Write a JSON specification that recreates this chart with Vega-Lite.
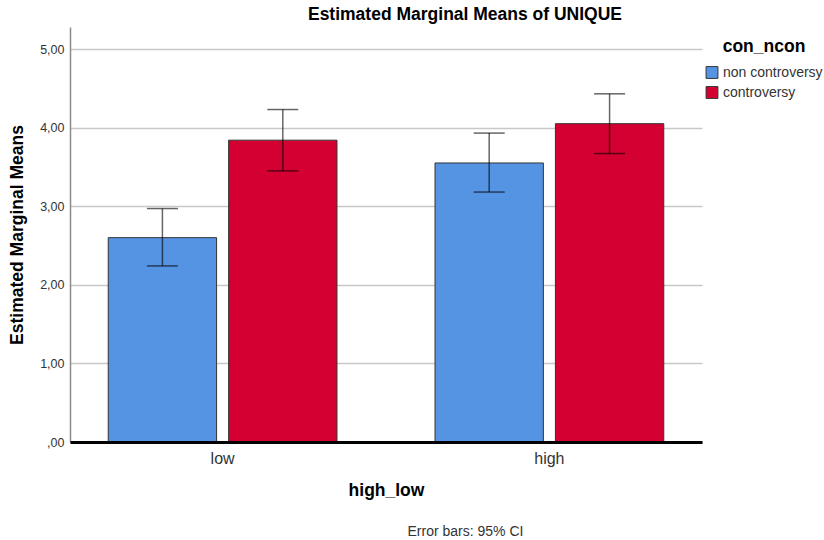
{
  "$schema": "https://vega.github.io/schema/vega-lite/v6.json",
  "autosize": "none",
  "width": 632,
  "height": 415,
  "padding": {"left": 70, "top": 27, "right": 122, "bottom": 98},
  "background": "white",
  "title": {
    "text": "Estimated Marginal Means of UNIQUE",
    "font": "Liberation Sans",
    "fontSize": 17.5,
    "fontWeight": "bold",
    "color": "#000000",
    "anchor": "middle",
    "dx": 79,
    "offset": 4
  },
  "config": {
    "view": {"stroke": null},
    "font": "Liberation Sans"
  },
  "data": {
    "values": [
      {"high_low": "low", "con_ncon": "non controversy", "mean": 2.60, "lo": 2.24, "hi": 2.97},
      {"high_low": "low", "con_ncon": "controversy", "mean": 3.84, "lo": 3.45, "hi": 4.23},
      {"high_low": "high", "con_ncon": "non controversy", "mean": 3.55, "lo": 3.18, "hi": 3.93},
      {"high_low": "high", "con_ncon": "controversy", "mean": 4.05, "lo": 3.67, "hi": 4.43}
    ]
  },
  "resolve": {"axis": {"x": "independent"}},
  "layer": [
    {
      "mark": {"type": "bar", "stroke": "#333333", "strokeWidth": 1},
      "encoding": {
        "x": {
          "field": "high_low", "type": "nominal", "sort": ["low", "high"],
          "scale": {"paddingInner": 0.3, "paddingOuter": 0.117},
          "axis": {
            "orient": "bottom",
            "title": "high_low", "labelAngle": 0, "ticks": false, "grid": false,
            "labelFont": "Liberation Sans", "labelFontSize": 16, "labelColor": "#333333", "labelPadding": 8,
            "titleFont": "Liberation Sans", "titleFontSize": 17.5, "titleFontWeight": "bold", "titleColor": "#000000", "titlePadding": 15,
            "domainColor": "#000000", "domainWidth": 3, "zindex": 1
          }
        },
        "xOffset": {
          "field": "con_ncon", "type": "nominal", "sort": ["non controversy", "controversy"],
          "scale": {"paddingInner": 0.1, "paddingOuter": 0}
        },
        "y": {
          "field": "mean", "type": "quantitative",
          "scale": {"domain": [0, 5.28], "nice": false, "zero": true},
          "axis": {
            "title": "Estimated Marginal Means", "values": [0, 1, 2, 3, 4, 5],
            "labelExpr": "datum.value == 0 ? ',00' : replace(format(datum.value, '.2f'), '.', ',')",
            "ticks": false, "labelPadding": 6,
            "labelFont": "Liberation Sans", "labelFontSize": 12.5, "labelColor": "#333333",
            "titleFont": "Liberation Sans", "titleFontSize": 17.5, "titleFontWeight": "bold", "titleColor": "#000000", "titlePadding": 13,
            "domainColor": "#8a8a8a", "domainWidth": 1.5,
            "grid": true, "gridColor": "#c8c8c8", "gridWidth": 1.5
          }
        },
        "color": {
          "field": "con_ncon", "type": "nominal",
          "scale": {"domain": ["non controversy", "controversy"], "range": ["#5593E3", "#D50032"]},
          "legend": {
            "title": "con_ncon", "orient": "none", "legendX": 635, "legendY": 11,
            "titleFont": "Liberation Sans", "titleFontSize": 17.5, "titleFontWeight": "bold", "titleColor": "#000000",
            "titleAnchor": "middle", "titleAlign": "center", "titlePadding": 10,
            "labelFont": "Liberation Sans", "labelFontSize": 14, "labelColor": "#333333", "labelOffset": 4,
            "symbolType": "square", "symbolSize": 140, "symbolStrokeColor": "#333333", "symbolStrokeWidth": 1,
            "symbolOpacity": 1, "rowPadding": 4, "padding": 0
          }
        }
      }
    },
    {
      "mark": {"type": "rule", "color": "#000000", "opacity": 0.6, "strokeWidth": 1.5},
      "encoding": {
        "x": {
          "field": "high_low", "type": "nominal", "sort": ["low", "high"],
          "axis": {
            "orient": "bottom",
            "title": "Error bars: 95% CI", "labels": false, "ticks": false, "domain": false, "grid": false,
            "titleFont": "Liberation Sans", "titleFontSize": 14, "titleFontWeight": "normal", "titleColor": "#333333",
            "titleX": 395, "titleY": 82, "titleBaseline": "top", "titleAlign": "center"
          }
        },
        "xOffset": {"field": "con_ncon", "type": "nominal", "sort": ["non controversy", "controversy"]},
        "y": {"field": "lo", "type": "quantitative"},
        "y2": {"field": "hi"}
      }
    },
    {
      "mark": {"type": "tick", "color": "#000000", "opacity": 0.6, "thickness": 1.5, "size": 31},
      "encoding": {
        "x": {"field": "high_low", "type": "nominal", "sort": ["low", "high"], "axis": null},
        "xOffset": {"field": "con_ncon", "type": "nominal", "sort": ["non controversy", "controversy"]},
        "y": {"field": "lo", "type": "quantitative"}
      }
    },
    {
      "mark": {"type": "tick", "color": "#000000", "opacity": 0.6, "thickness": 1.5, "size": 31},
      "encoding": {
        "x": {"field": "high_low", "type": "nominal", "sort": ["low", "high"], "axis": null},
        "xOffset": {"field": "con_ncon", "type": "nominal", "sort": ["non controversy", "controversy"]},
        "y": {"field": "hi", "type": "quantitative"}
      }
    }
  ]
}
